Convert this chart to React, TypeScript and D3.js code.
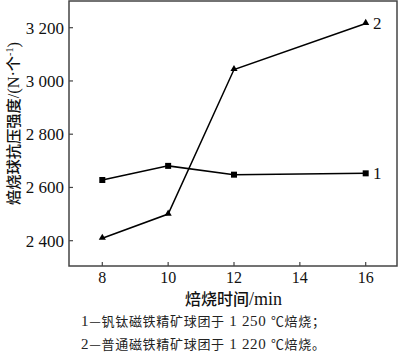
import React from "react";
import * as d3 from "d3";

const xTicks = [8, 10, 12, 14, 16];
const yTicks = [2400, 2600, 2800, 3000, 3200];
const yTickLabels = ["2 400", "2 600", "2 800", "3 000", "3 200"];
const times = [8, 10, 12, 16];
const series1 = [2628, 2681, 2648, 2653];
const series2 = [2409, 2500, 3043, 3216];
const seriesLabels = ["1", "2"];
const legendNums = ["1", "2"];
const legendNames = ["钒钛磁铁精矿球团于", "普通磁铁精矿球团于"];
const legendTemps = ["1 250", "1 220"];
const legendTails = ["℃焙烧；", "℃焙烧。"];

const W = 400, H = 358;
const left = 69, right = 397, top = 1, bottom = 266;

export default function App() {
  const x = d3.scaleLinear().domain([8, 16]).range([102.3, 365.7]);
  const y = d3.scaleLinear().domain([2400, 3200]).range([240.7, 27.7]);
  const line = d3.line<number>().x((_, i) => x(times[i])).y((d) => y(d));
  const tri = d3.symbol().type(d3.symbolTriangle).size(22)();
  const serifStyle = { fontFamily: '"Liberation Serif", "Times New Roman", Tinos, serif' };
  const cjkStyle = { fontFamily: '"Noto Sans CJK SC", sans-serif' };
  return (
    <svg width={W} height={H} style={{ position: "absolute", left: 0, top: 0, background: "#fff" }}>
      <rect x={left} y={top} width={right - left} height={bottom - top} fill="none" stroke="#444" strokeWidth={1.5} />
      {xTicks.map((t) => (
        <g key={t}>
          <line x1={x(t)} x2={x(t)} y1={bottom} y2={bottom - 4} stroke="#444" strokeWidth={1.2} />
          <text x={x(t)} y={282.5} textAnchor="middle" style={serifStyle} fontSize={16} fill="#111">{t}</text>
        </g>
      ))}
      {yTicks.map((t, i) => (
        <g key={t}>
          <line x1={left} x2={left + 4} y1={y(t)} y2={y(t)} stroke="#444" strokeWidth={1.2} />
          <text x={64} y={y(t) + 6} textAnchor="end" style={serifStyle} fontSize={17} fill="#111">{yTickLabels[i]}</text>
        </g>
      ))}
      <path d={line(series1) || ""} fill="none" stroke="#000" strokeWidth={1.5} />
      <path d={line(series2) || ""} fill="none" stroke="#000" strokeWidth={1.5} />
      {series1.map((v, i) => (
        <rect key={i} x={x(times[i]) - 3} y={y(v) - 3} width={6} height={6} fill="#000" />
      ))}
      {series2.map((v, i) => (
        <path key={i} d={tri || ""} transform={`translate(${x(times[i])},${y(v) - 0.5})`} fill="#000" />
      ))}
      <text x={373} y={y(series1[3]) + 6} style={serifStyle} fontSize={17} fill="#111">{seriesLabels[0]}</text>
      <text x={373} y={y(series2[3]) + 6} style={serifStyle} fontSize={17} fill="#111">{seriesLabels[1]}</text>
      <text x={185} y={304.5} style={cjkStyle} fontSize={16} fontWeight={500} fill="#111">
        焙烧时间<tspan style={serifStyle} fontSize={18} fontWeight={400}>/min</tspan>
      </text>
      <text transform="translate(19,205) rotate(-90)" textAnchor="start" textLength={163} lengthAdjust="spacingAndGlyphs" style={cjkStyle} fontSize={15} fontWeight={500} fill="#111">
        焙烧球抗压强度<tspan style={serifStyle} fontSize={16} fontWeight={400}>/(N·</tspan>个<tspan style={serifStyle} fontSize={10} fontWeight={400} dy={-6}>-1</tspan><tspan style={serifStyle} fontSize={16} fontWeight={400} dy={6}>)</tspan>
      </text>
      {legendNums.map((n, i) => (
        <text key={i} x={81} y={326 + i * 23} textLength={244} lengthAdjust="spacing" style={cjkStyle} fontSize={13} fill="#222">
          <tspan style={serifStyle} fontSize={15}>{n}</tspan>—{legendNames[i]}
          <tspan style={serifStyle} fontSize={15}>{" " + legendTemps[i] + "  "}</tspan>
          {legendTails[i]}
        </text>
      ))}
    </svg>
  );
}
